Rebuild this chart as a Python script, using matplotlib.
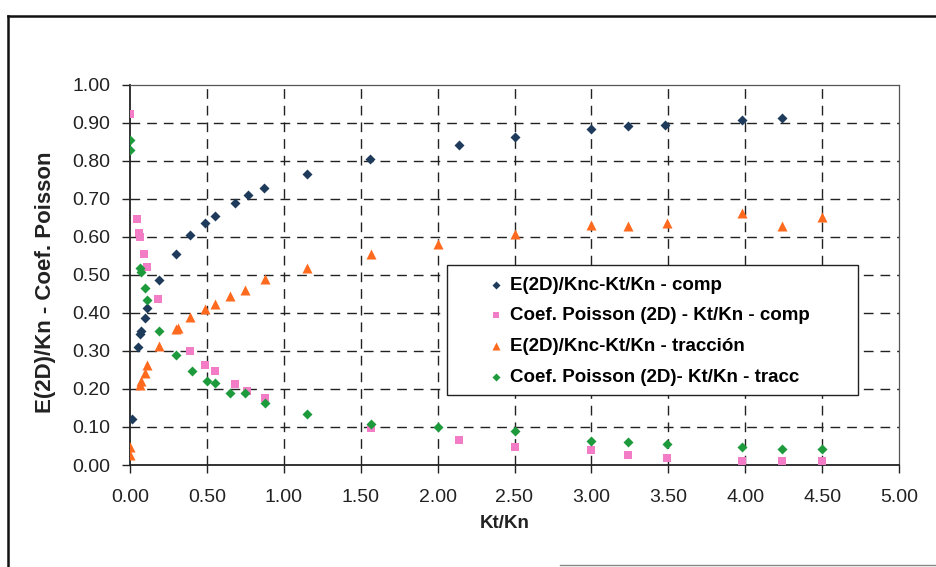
import matplotlib
matplotlib.use("Agg")
import matplotlib.pyplot as plt
from matplotlib.lines import Line2D
from matplotlib.patches import Rectangle

plt.rcParams['font.family'] = ['Liberation Sans', 'DejaVu Sans']

# ---- data ----
x_comp_E = [0.01, 0.054, 0.065, 0.07, 0.10, 0.11, 0.19, 0.30, 0.39, 0.49, 0.55, 0.68, 0.77, 0.87,
            1.15, 1.56, 2.14, 2.50, 3.00, 3.24, 3.48, 3.98, 4.24]
y_comp_E = [0.12, 0.31, 0.344, 0.352, 0.386, 0.412, 0.486, 0.554, 0.604, 0.637, 0.654, 0.689, 0.709, 0.727,
            0.765, 0.805, 0.841, 0.862, 0.882, 0.891, 0.894, 0.908, 0.913]

x_comp_P = [0.0, 0.048, 0.06, 0.062, 0.09, 0.108, 0.18, 0.39, 0.49, 0.55, 0.68, 0.76, 0.88,
            1.57, 2.14, 2.50, 3.00, 3.24, 3.49, 3.98, 4.24, 4.50]
y_comp_P = [0.923, 0.646, 0.611, 0.598, 0.554, 0.521, 0.436, 0.300, 0.262, 0.247, 0.212, 0.195, 0.175,
            0.096, 0.065, 0.047, 0.039, 0.026, 0.019, 0.011, 0.011, 0.011]

x_trac_E = [0.0, 0.0, 0.065, 0.07, 0.10, 0.11, 0.19, 0.30, 0.31, 0.39, 0.49, 0.55, 0.65, 0.75, 0.88,
            1.15, 1.57, 2.00, 2.50, 3.00, 3.24, 3.49, 3.98, 4.24, 4.50]
y_trac_E = [0.046, 0.025, 0.21, 0.22, 0.243, 0.263, 0.313, 0.357, 0.36, 0.389, 0.41, 0.422, 0.445, 0.46, 0.49,
            0.517, 0.554, 0.580, 0.607, 0.630, 0.627, 0.637, 0.661, 0.629, 0.653]

x_trac_P = [0.0, 0.0, 0.065, 0.07, 0.10, 0.11, 0.19, 0.30, 0.40, 0.50, 0.55, 0.65, 0.75, 0.88,
            1.15, 1.57, 2.00, 2.50, 3.00, 3.24, 3.49, 3.98, 4.24, 4.50]
y_trac_P = [0.853, 0.827, 0.519, 0.506, 0.465, 0.433, 0.353, 0.290, 0.248, 0.221, 0.215, 0.190, 0.190, 0.164,
            0.135, 0.108, 0.101, 0.090, 0.063, 0.060, 0.054, 0.048, 0.041, 0.041]

labels = ["E(2D)/Knc-Kt/Kn - comp",
          "Coef. Poisson (2D) - Kt/Kn - comp",
          "E(2D)/Knc-Kt/Kn - tracción",
          "Coef. Poisson (2D)- Kt/Kn - tracc"]

x_ticks = [0.0, 0.5, 1.0, 1.5, 2.0, 2.5, 3.0, 3.5, 4.0, 4.5, 5.0]
y_ticks = [0.0, 0.1, 0.2, 0.3, 0.4, 0.5, 0.6, 0.7, 0.8, 0.9, 1.0]

W, H = 936, 567
fig = plt.figure(figsize=(W / 100, H / 100), dpi=100)
fig.patch.set_facecolor('white')

# axes placement in pixels
L, R, T, B = 130, 899, 84.5, 465
ax = fig.add_axes([L / W, 1 - B / H, (R - L) / W, (B - T) / H])

ax.scatter(x_comp_E, y_comp_E, marker='D', s=26, color='#1f3b5c', label=labels[0], zorder=3, linewidths=0)
ax.scatter(x_comp_P, y_comp_P, marker='s', s=30, color='#f27cc6', label=labels[1], zorder=3, linewidths=0)
ax.scatter(x_trac_E, y_trac_E, marker='^', s=52, color='#ff6a1f', label=labels[2], zorder=3, linewidths=0)
ax.scatter(x_trac_P, y_trac_P, marker='D', s=26, color='#1d9a3c', label=labels[3], zorder=3, linewidths=0)

ax.set_xlim(0, 5)
ax.set_ylim(0, 1)
ax.set_xticks(x_ticks)
ax.set_yticks(y_ticks)
ax.set_xticklabels([f"{v:.2f}" for v in x_ticks])
ax.set_yticklabels([f"{v:.2f}" for v in y_ticks])
ax.tick_params(axis='both', direction='out', length=6, width=1.0, labelsize=14, colors='#222222')
ax.tick_params(axis='y', pad=8)
ax.tick_params(axis='x', pad=11)

for v in x_ticks[1:-1]:
    ax.axvline(v, color='#222222', lw=1.0, linestyle=(0, (7, 5)), zorder=1)
for v in y_ticks[1:-1]:
    ax.axhline(v, color='#222222', lw=1.0, linestyle=(0, (7, 5)), zorder=1)

for s in ['left', 'bottom']:
    ax.spines[s].set_color('#222222')
    ax.spines[s].set_linewidth(1.3)
for s in ['top', 'right']:
    ax.spines[s].set_color('#555555')
    ax.spines[s].set_linewidth(0.9)

# legend box (drawn separately) and legend entries
LX0, LX1, LY0, LY1 = 447, 858, 265, 395
box = Rectangle((LX0 / W, 1 - LY1 / H), (LX1 - LX0) / W, (LY1 - LY0) / H, transform=fig.transFigure,
                facecolor='white', edgecolor='#222222', lw=1.0, zorder=4)
fig.add_artist(box)
leg = fig.legend(*ax.get_legend_handles_labels(), loc='center left',
                 bbox_to_anchor=(490 / W, 1 - ((LY0 + LY1) / 2 + 1) / H),
                 borderaxespad=0, borderpad=0, frameon=False,
                 prop={'weight': 'bold', 'size': 13.5}, handlelength=0.6, handletextpad=0.45,
                 labelspacing=0.72, markerscale=0.8, scatterpoints=1)
leg.set_zorder(6)

fig.text(46 / W, 1 - 282 / H, "E(2D)/Kn - Coef. Poisson", rotation=90, ha='center', va='center',
         fontsize=16, fontweight='bold', color='#222222')
fig.text(505 / W, 1 - 523 / H, "Kt/Kn", ha='center', va='center', fontsize=13.5,
         fontweight='bold', color='#222222')

# outer frame
fig.add_artist(Line2D([8 / W, 8 / W], [1 - 16 / H, 0], transform=fig.transFigure, color='#111111', lw=1.8))
fig.add_artist(Line2D([8 / W, 1], [1 - 16 / H, 1 - 16 / H], transform=fig.transFigure, color='#111111', lw=1.8))
fig.add_artist(Line2D([560 / W, 1], [1 - 565 / H, 1 - 565 / H], transform=fig.transFigure, color='#888888', lw=1.0))

fig.savefig("out.png", dpi=100)
